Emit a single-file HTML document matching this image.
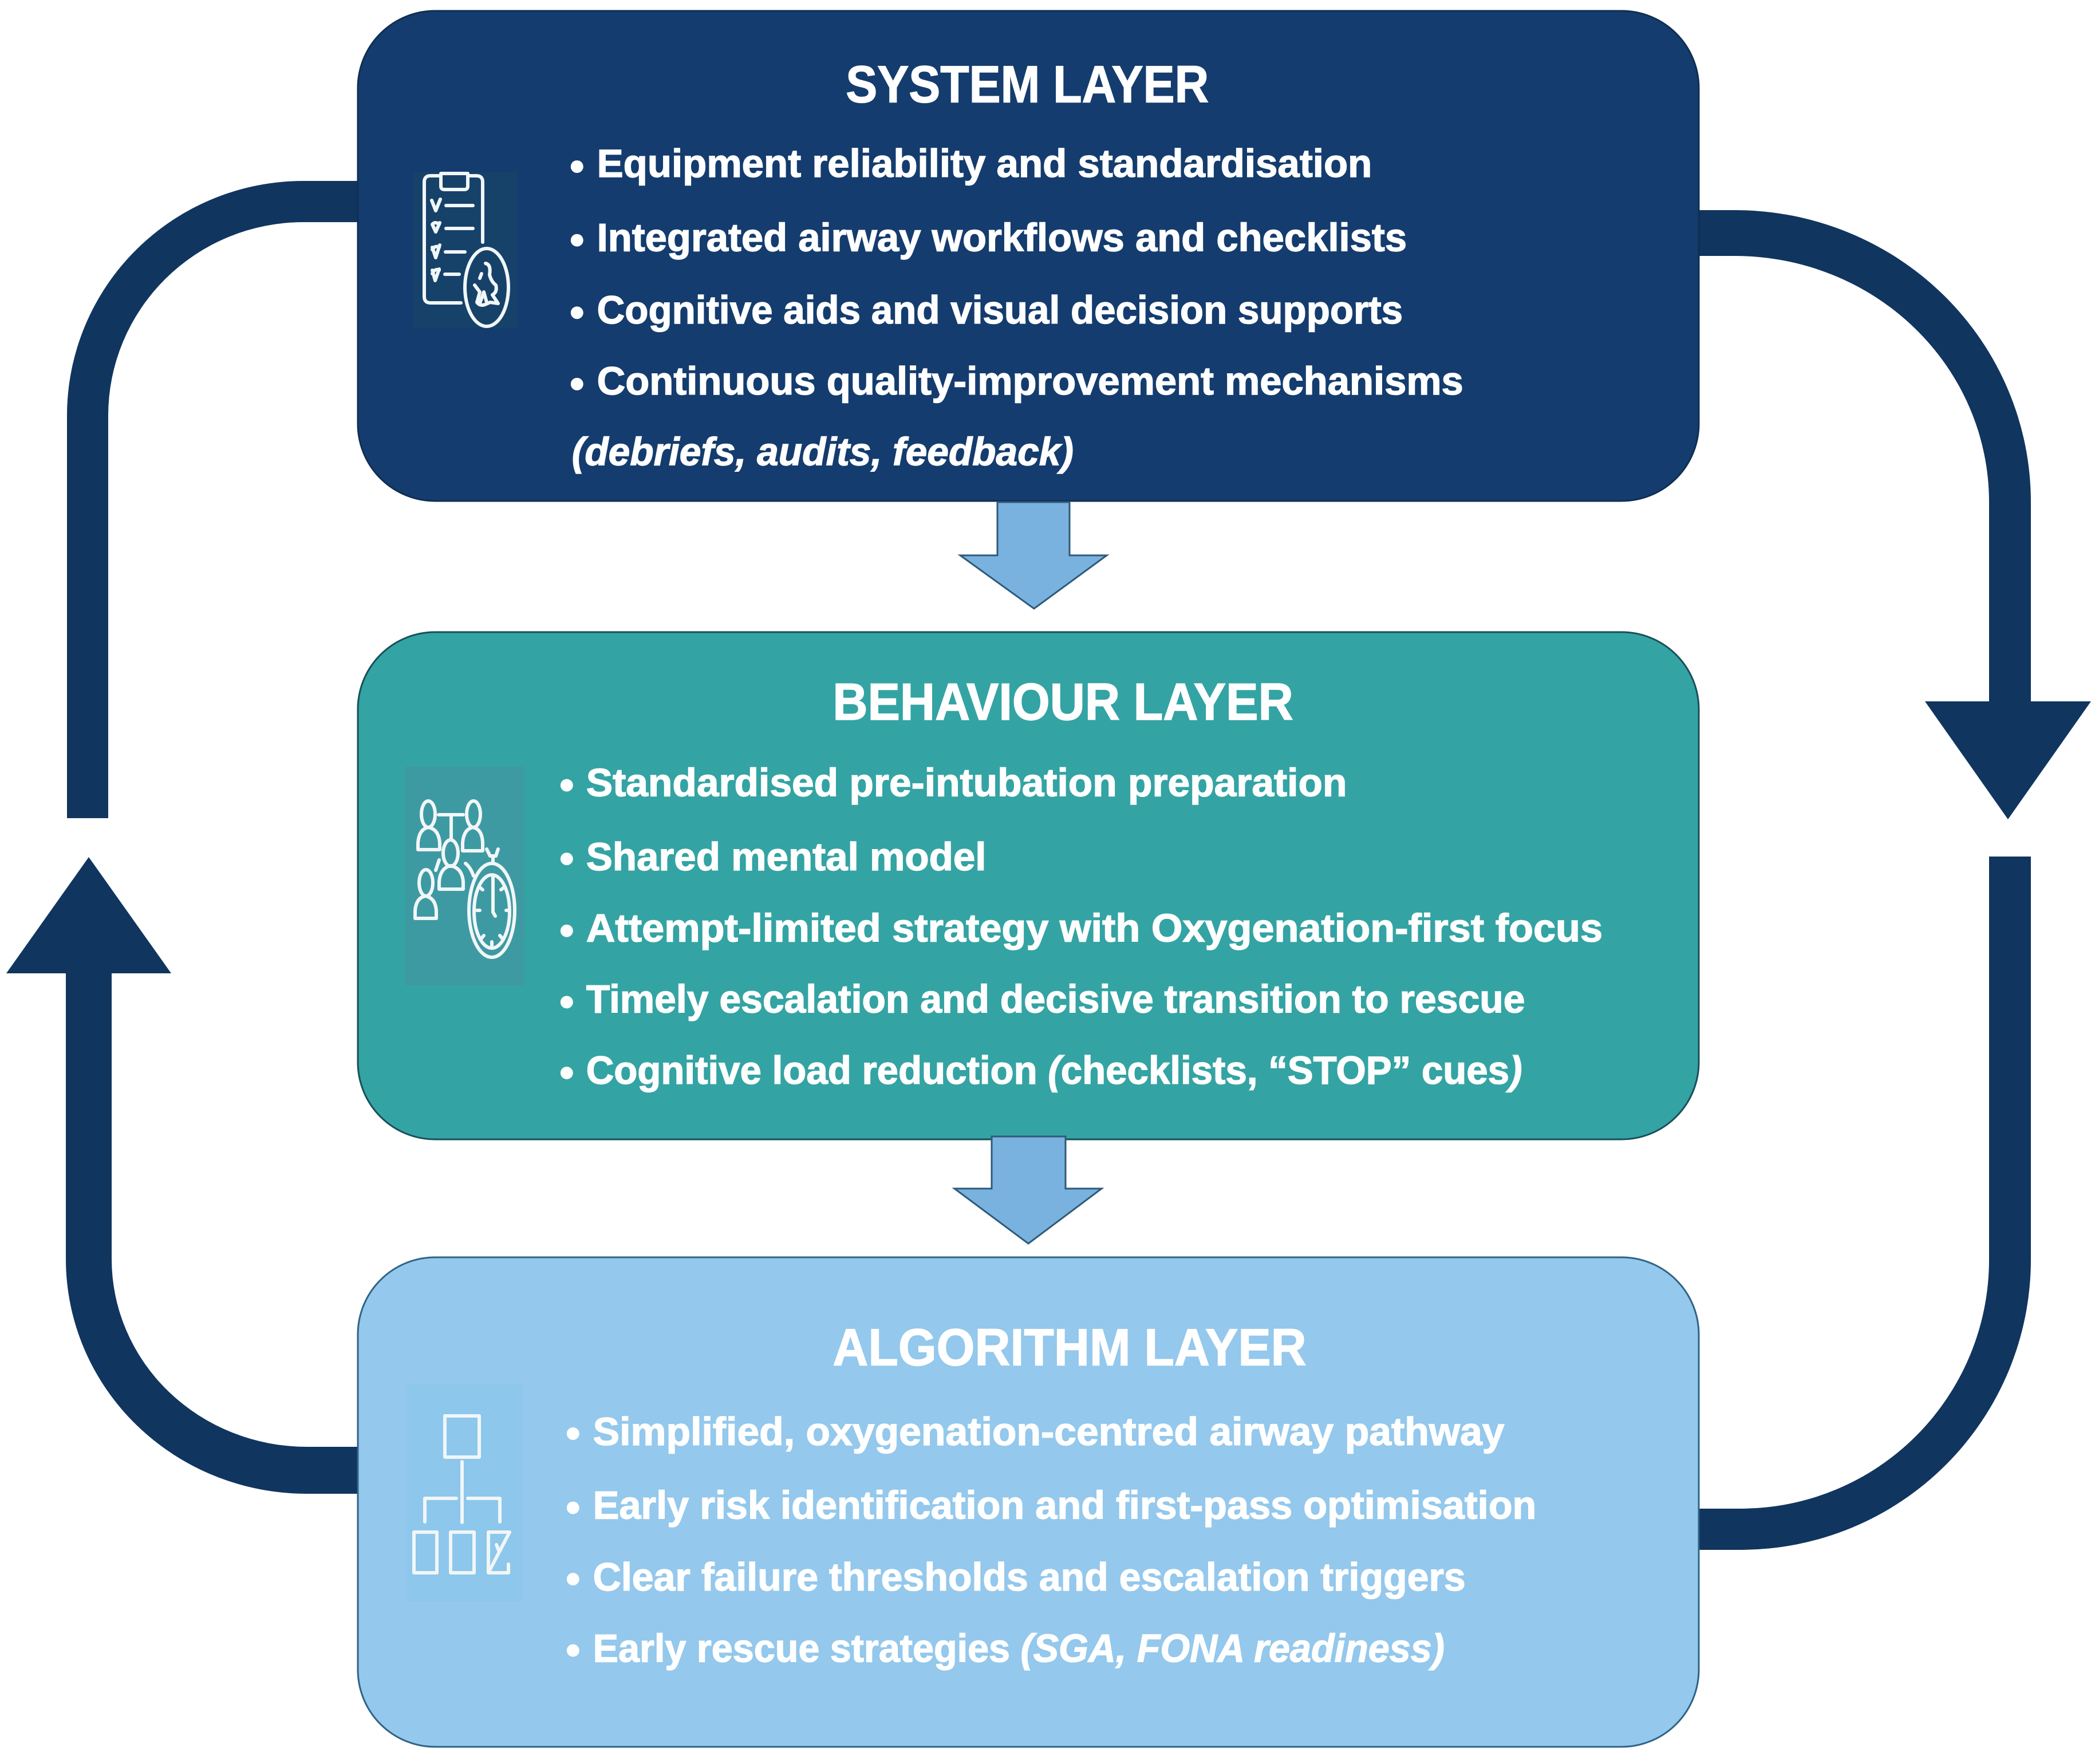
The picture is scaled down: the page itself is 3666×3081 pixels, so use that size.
<!DOCTYPE html>
<html><head><meta charset="utf-8"><style>
html,body{margin:0;padding:0;background:#fff;width:3666px;height:3081px;overflow:hidden}
svg{display:block}
text{font-family:"Liberation Sans",sans-serif;font-weight:bold;fill:#fff;stroke:#fff;stroke-width:1.4}
.h{font-size:91px}
.t{font-size:69px}
.i{font-style:italic}
.ic{fill:none;stroke:#f1f6f8;stroke-width:6;stroke-linecap:round;stroke-linejoin:round}
</style></head><body>
<svg width="3666" height="3081" viewBox="0 0 3666 3081" xmlns="http://www.w3.org/2000/svg">
<rect width="3666" height="3081" fill="#fff"/>
<g fill="#10355f">
<path d="M2967 367H3030A517 510 0 0 1 3547 877V1225H3652L3507 1431L3362 1225H3474V877A444 430 0 0 0 3030 447H2967Z"/>
<path d="M3474 1496H3547V2200A507 507 0 0 1 3040 2707H2967V2635H3040A434 435 0 0 0 3474 2200Z"/>
<path d="M626 316H530A413 410 0 0 0 117 726V1429H189V726A341 338 0 0 1 530 388H626Z"/>
<path d="M626 2609H536A421 410 0 0 1 115 2199V1700H11L155 1497L299 1700H195V2199A341 328 0 0 0 536 2527H626Z"/>
</g>
<rect x="625" y="19" width="2342" height="856" rx="135" fill="#143c6e" stroke="#0f2f52" stroke-width="3"/>
<rect x="625" y="1104" width="2342" height="886" rx="135" fill="#34a3a3" stroke="#17505a" stroke-width="3"/>
<rect x="625" y="2196" width="2342" height="855" rx="135" fill="#94c8ec" stroke="#2f6485" stroke-width="3"/>
<g fill="#79b2df" stroke="#2e5a78" stroke-width="3" stroke-linejoin="miter">
<path d="M1742 877H1868V970H1933L1806 1063L1677 970H1742Z"/>
<path d="M1732 1985H1861V2076H1924L1796 2172L1667 2076H1732Z"/>
</g>
<g transform="scale(.9968)">
<text class="h" x="1482" y="179" textLength="636" lengthAdjust="spacingAndGlyphs">SYSTEM LAYER</text>
<g fill="#fff"><circle cx="1011" cy="292" r="11"/><circle cx="1011" cy="421" r="11"/><circle cx="1011" cy="548" r="11"/><circle cx="1011" cy="673" r="11"/></g>
<text class="t" x="1046" y="310" textLength="1358" lengthAdjust="spacingAndGlyphs">Equipment reliability and standardisation</text>
<text class="t" x="1046" y="440" textLength="1419" lengthAdjust="spacingAndGlyphs">Integrated airway workflows and checklists</text>
<text class="t" x="1046" y="567" textLength="1412" lengthAdjust="spacingAndGlyphs">Cognitive aids and visual decision supports</text>
<text class="t" x="1046" y="691" textLength="1518" lengthAdjust="spacingAndGlyphs">Continuous quality-improvement mechanisms</text>
<text class="t i" x="1002" y="815" textLength="879" lengthAdjust="spacingAndGlyphs">(debriefs, audits, feedback)</text>
<text class="h" x="1459" y="1261" textLength="807" lengthAdjust="spacingAndGlyphs">BEHAVIOUR LAYER</text>
<g fill="#fff"><circle cx="993" cy="1376" r="11"/><circle cx="993" cy="1505" r="11"/><circle cx="993" cy="1631" r="11"/><circle cx="993" cy="1756" r="11"/><circle cx="993" cy="1880" r="11"/></g>
<text class="t" x="1027" y="1395" textLength="1333" lengthAdjust="spacingAndGlyphs">Standardised pre-intubation preparation</text>
<text class="t" x="1027" y="1525" textLength="701" lengthAdjust="spacingAndGlyphs">Shared mental model</text>
<text class="t" x="1027" y="1650" textLength="1781" lengthAdjust="spacingAndGlyphs">Attempt-limited strategy with Oxygenation-first focus</text>
<text class="t" x="1027" y="1774" textLength="1645" lengthAdjust="spacingAndGlyphs">Timely escalation and decisive transition to rescue</text>
<text class="t" x="1027" y="1899" textLength="1640" lengthAdjust="spacingAndGlyphs">Cognitive load reduction <tspan class="i">(</tspan>checklists, “STOP” cues<tspan class="i">)</tspan></text>
<text class="h" x="1459" y="2392" textLength="830" lengthAdjust="spacingAndGlyphs">ALGORITHM LAYER</text>
<g fill="#fff"><circle cx="1004" cy="2512" r="11"/><circle cx="1004" cy="2642" r="11"/><circle cx="1004" cy="2767" r="11"/><circle cx="1004" cy="2892" r="11"/></g>
<text class="t" x="1039" y="2532" textLength="1597" lengthAdjust="spacingAndGlyphs">Simplified, oxygenation-centred airway pathway</text>
<text class="t" x="1039" y="2661" textLength="1653" lengthAdjust="spacingAndGlyphs">Early risk identification and first-pass optimisation</text>
<text class="t" x="1039" y="2787" textLength="1529" lengthAdjust="spacingAndGlyphs">Clear failure thresholds and escalation triggers</text>
<text class="t" x="1039" y="2912" textLength="1492" lengthAdjust="spacingAndGlyphs">Early rescue strategies <tspan class="i">(SGA, FONA readiness)</tspan></text>
</g>

<rect x="722" y="300" width="181" height="273" fill="#16426a"/>
<g class="ic">
<path d="M843 423V318Q843 307 832 307H817M770 307H752Q741 307 741 318V518Q741 529 752 529H805"/>
<path d="M770 303H817V325Q817 331 811 331H776Q770 331 770 325Z"/>
<path d="M754 350L761 368L769 348"/><path d="M779 359H826"/>
<path d="M755 392L761 405L768 389M755 392Q760 386 767 392"/><path d="M779 399H826"/>
<path d="M755 432L761 450L768 428M755 436Q760 428 767 432"/><path d="M778 440H812"/>
<path d="M755 472L760 490L767 470M755 478Q760 468 767 472"/><path d="M777 479H802"/>
<ellipse cx="850" cy="502" rx="38" ry="68"/>
<path d="M848 460Q858 462 855 480Q858 492 866 498Q869 510 860 515L870 530L856 528L847 532Q838 535 833 528L838 510L829 498M841 478L838 486M838 530L845 510L850 528"/>
</g>

<rect x="708" y="1338" width="208" height="384" fill="#3e9aa2"/>
<g class="ic">
<ellipse cx="748" cy="1422" rx="12" ry="23"/>
<path d="M730 1484V1472Q732 1448 748 1445Q766 1448 768 1472V1484Z"/>
<ellipse cx="827" cy="1422" rx="12" ry="23"/>
<path d="M808 1486V1472Q810 1448 826 1445Q842 1448 843 1472V1486Z"/>
<ellipse cx="787" cy="1490" rx="13" ry="23"/>
<path d="M767 1553V1540Q769 1516 787 1512Q807 1516 809 1540V1553Z"/>
<ellipse cx="744" cy="1542" rx="12" ry="23"/>
<path d="M725 1604V1590Q727 1568 743 1565Q760 1568 762 1590V1604Z"/>
<path d="M766 1423H809M788 1423V1466"/>
<path d="M767 1502L761 1520"/><path d="M813 1508Q822 1515 827 1530"/>
<ellipse cx="859" cy="1590" rx="40" ry="82"/>
<ellipse cx="859" cy="1592" rx="31" ry="64"/>
<path d="M861 1530V1593L865 1600"/>
<path d="M850 1483L856 1495H866L870 1483M861 1495V1508"/>
<path d="M859 1645V1652M833 1590H838M884 1590H889M840 1640L845 1634M878 1640L873 1634M838 1550L843 1554M880 1550L875 1554"/>
</g>

<rect x="710" y="2417" width="203" height="380" fill="#8dc7eb"/>
<g class="ic">
<rect x="777" y="2473" width="60" height="72"/>
<path d="M807 2553V2659M742 2658V2617H797M817 2617H873V2658"/>
<rect x="723" y="2676" width="40" height="71"/>
<rect x="787" y="2676" width="41" height="71"/>
<path d="M888 2732V2747H853V2676H890L853 2747M867 2698L871 2708"/>
</g>
</svg>
</body></html>
